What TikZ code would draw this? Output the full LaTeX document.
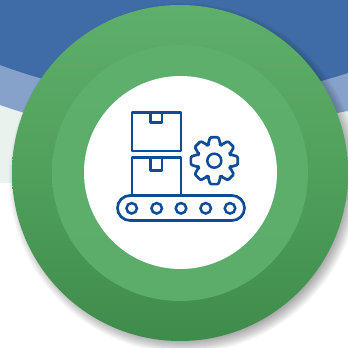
\documentclass[tikz,border=0pt]{standalone}
\usetikzlibrary{calc}
\definecolor{navy}{HTML}{0F4C97}
\definecolor{bluetop}{HTML}{3F6CA6}
\definecolor{bluemid}{HTML}{86A2CB}
\definecolor{pale}{HTML}{E9F2EC}
\definecolor{paleright}{HTML}{E9F0EB}
\definecolor{gA}{HTML}{3F8B4B}
\definecolor{gB}{HTML}{50A05C}
\definecolor{gC}{HTML}{5FAF6C}
\definecolor{gD}{HTML}{5CAC69}
\definecolor{gE}{HTML}{5FAF6D}
\tikzset{
  iconline/.style={draw=navy,line width=2.7pt,line join=round,line cap=round},
  roller/.style={circle,draw=navy,line width=2.5pt,inner sep=0pt},
}
\pgfdeclareverticalshading{outershade}{100bp}{
  color(0bp)=(gA); color(25bp)=(gA); color(50bp)=(gB); color(75bp)=(gC); color(100bp)=(gC)}
\pgfdeclareverticalshading{midshade}{100bp}{
  color(0bp)=(gD); color(100bp)=(gE)}
\begin{document}
\begin{tikzpicture}[x=1pt,y=-1pt]
\useasboundingbox (0,0) rectangle (348,348);
\fill[white] (0,0) rectangle (348,348);
% background bands
\fill[pale] (0,100) rectangle (120,183);
\fill[paleright] (300,100) rectangle (348,200);
\fill[bluemid] (0,60) -- (0,105) .. controls (23,113) and (60,125) .. (100,125) -- (260,125) .. controls (290,122) and (320,116) .. (348,111) -- (348,60) -- cycle;
\fill[bluetop] (0,0) -- (0,65) .. controls (30,76) and (60,85) .. (100,90) -- (250,95) .. controls (280,92) and (310,85) .. (348,73) -- (348,0) -- cycle;
% soft shadow
\foreach \r in {181,180,...,160}
  \fill[black,opacity=0.028] (184,178) circle[radius=\r-6];
% discs
\path[shading=outershade] (180,173) circle[radius=168];
\path[shading=midshade] (180,173) circle[radius=128];
\node[circle,fill=white,minimum size=193pt,inner sep=0pt] (hub) at (180.5,172.5) {};
% boxes
\draw[iconline] (132,151) rectangle (181,112.5);
\draw[iconline] (150.5,112.5) -- (150.5,122.7) -- (162,122.7) -- (162,112.5);
\draw[iconline] (132,195) -- (132,157.5) -- (181,157.5) -- (181,195);
\draw[iconline] (150.5,157.5) -- (150.5,170.7) -- (162,170.7) -- (162,157.5);
% belt
\draw[iconline,rounded corners=12.5pt] (117.5,195.5) rectangle (244.5,220.5);
\foreach \x/\n in {131.7/a,156.7/b,181/c,205.7/d,230/e}
  \node[roller,minimum size=10.5pt] (roller\n) at (\x,208.3) {};
% gear
\coordinate (gearc) at (214.3,160.7);
\node[roller,minimum size=14pt] (gearhub) at (gearc) {};
\draw[iconline,rounded corners=1.2pt]
  ($(gearc)+(-22:17)$)
  \foreach \a in {0,45,...,315}{
    -- ($(gearc)+(\a-22:17)$)
    -- ($(gearc)+(\a-10:23.8)$) -- ($(gearc)+(\a+10:23.8)$) -- ($(gearc)+(\a+22:17)$)
  } -- cycle;
\end{tikzpicture}
\end{document}
